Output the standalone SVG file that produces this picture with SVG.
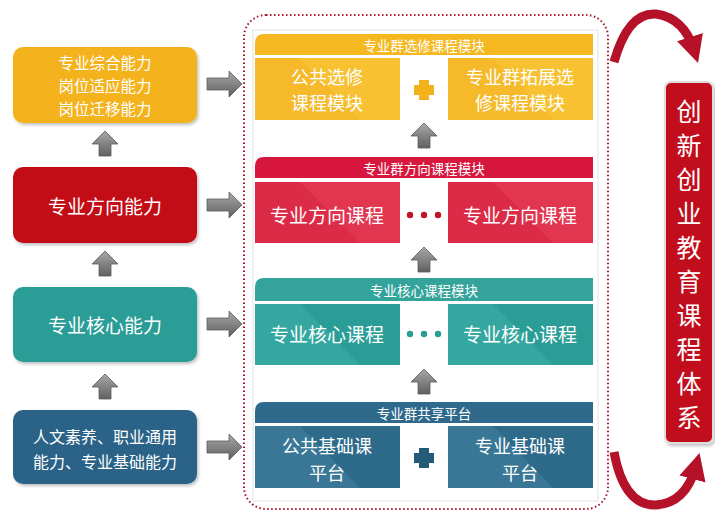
<svg xmlns="http://www.w3.org/2000/svg" width="715" height="513" viewBox="0 0 715 513">
<defs>
<style>
text{font-family:"Noto Sans CJK SC","Noto Sans",sans-serif;fill:#fff;text-anchor:middle;dominant-baseline:central}
.lt{font-size:15.5px}
.hd{font-size:13.5px}
.sb{font-size:18px}
.vt{font-size:25px}
.ga{fill:url(#gg);stroke:#5a5a5a;stroke-width:0.8}
</style>
<linearGradient id="gg" x1="0" y1="0" x2="0" y2="1"><stop offset="0" stop-color="#a8a8a8"/><stop offset="1" stop-color="#606060"/></linearGradient>
<filter id="sh" x="-10%" y="-10%" width="125%" height="130%"><feDropShadow dx="1.5" dy="2" stdDeviation="1.5" flood-color="#000" flood-opacity="0.25"/></filter>
<marker id="ah" viewBox="0 0 10 10" refX="5" refY="5" markerWidth="3" markerHeight="3" orient="auto"><path d="M0,0 L10,5 L0,10 z" fill="#B5122A"/></marker>
</defs>

<g id="left-boxes">
<g id="n-comp"><rect x="13" y="47" width="184" height="76" rx="10" fill="#F4B21C" filter="url(#sh)"/>
<text class="lt" x="105" y="62">专业综合能力</text><text class="lt" x="105" y="85">岗位适应能力</text><text class="lt" x="105" y="108">岗位迁移能力</text></g>
<g id="n-dir"><rect x="13" y="167" width="184" height="76" rx="10" fill="#C30D14" filter="url(#sh)"/>
<text class="lt" x="105" y="205" style="font-size:19px">专业方向能力</text></g>
<g id="n-core"><rect x="13" y="287" width="184" height="75" rx="10" fill="#2A9D96" filter="url(#sh)"/>
<text class="lt" x="105" y="324" style="font-size:19px">专业核心能力</text></g>
<g id="n-base"><rect x="13" y="410" width="184" height="74" rx="10" fill="#2C6487" filter="url(#sh)"/>
<text class="lt" x="105" y="436" style="font-size:16px">人文素养、职业通用</text><text class="lt" x="105" y="461" style="font-size:16px">能力、专业基础能力</text></g>
</g>

<g id="frame">
<rect x="244" y="15" width="364" height="494" rx="22" fill="none" stroke="#A8162A" stroke-width="2" stroke-dasharray="1.5 2.5"/>
<rect x="253" y="30" width="345" height="471" fill="#fff" stroke="#e2e2e2" stroke-width="1"/>
</g>

<g id="m-elective">
<path d="M255,55 V43 Q255,34 264,34 H593 V55 Z" fill="#F5B820"/>
<text class="hd" x="424" y="44.5">专业群选修课程模块</text>
<rect x="255" y="58" width="145" height="62" fill="#F7C131"/>
<polygon points="255,58 300,58 360,120 255,120" fill="#F6B92A"/>
<text class="sb" x="327" y="76">公共选修</text><text class="sb" x="327" y="102">课程模块</text>
<rect x="448" y="58" width="145" height="62" fill="#F7C131"/>
<polygon points="448,58 493,58 553,120 448,120" fill="#F6B92A"/>
<text class="sb" x="520" y="76">专业群拓展选</text><text class="sb" x="520" y="102">修课程模块</text>
<path d="M419,80 h10 v5 h5 v10 h-5 v5 h-10 v-5 h-5 v-10 h5 z" fill="#F3B21C"/>
</g>

<g id="m-direction">
<path d="M255,178 V166 Q255,157 264,157 H593 V178 Z" fill="#D8173F"/>
<text class="hd" x="424" y="167.5">专业群方向课程模块</text>
<rect x="255" y="182" width="145" height="61" fill="#E2354F"/>
<polygon points="255,182 300,182 360,243 255,243" fill="#DB2B47"/>
<text class="sb" x="327" y="214" style="font-size:19px">专业方向课程</text>
<rect x="448" y="182" width="145" height="61" fill="#E2354F"/>
<polygon points="448,182 493,182 553,243 448,243" fill="#DB2B47"/>
<text class="sb" x="520" y="214" style="font-size:19px">专业方向课程</text>
<circle cx="410" cy="215" r="3.2" fill="#C5122A"/><circle cx="424" cy="215" r="3.2" fill="#C5122A"/><circle cx="438" cy="215" r="3.2" fill="#C5122A"/>
</g>

<g id="m-core">
<path d="M255,301 V287 Q255,278 264,278 H593 V301 Z" fill="#33A39C"/>
<text class="hd" x="424" y="289.5">专业核心课程模块</text>
<rect x="255" y="304" width="145" height="61" fill="#2A9D96"/>
<polygon points="255,304 300,304 360,365 255,365" fill="#34A8A0"/>
<text class="sb" x="327" y="333" style="font-size:19px">专业核心课程</text>
<rect x="448" y="304" width="145" height="61" fill="#2A9D96"/>
<polygon points="448,304 493,304 553,365 448,365" fill="#34A8A0"/>
<text class="sb" x="520" y="333" style="font-size:19px">专业核心课程</text>
<circle cx="410" cy="334" r="3.2" fill="#2A9D96"/><circle cx="424" cy="334" r="3.2" fill="#2A9D96"/><circle cx="438" cy="334" r="3.2" fill="#2A9D96"/>
</g>

<g id="m-shared">
<path d="M255,423 V411 Q255,402 264,402 H593 V423 Z" fill="#2F6A8C"/>
<text class="hd" x="424" y="412.5">专业群共享平台</text>
<rect x="255" y="426" width="145" height="62" fill="#2E6A8A"/>
<polygon points="255,426 300,426 360,488 255,488" fill="#3A7797"/>
<text class="sb" x="327" y="445">公共基础课</text><text class="sb" x="327" y="472">平台</text>
<rect x="448" y="426" width="145" height="62" fill="#2E6A8A"/>
<polygon points="448,426 493,426 553,488 448,488" fill="#3A7797"/>
<text class="sb" x="520" y="445">专业基础课</text><text class="sb" x="520" y="472">平台</text>
<path d="M419,448 h10 v5 h5 v10 h-5 v5 h-10 v-5 h-5 v-10 h5 z" fill="#245A78"/>
</g>

<g id="n-innov">
<rect x="665" y="82" width="48" height="361" rx="6" fill="#C10F1E" stroke="#ddd" stroke-width="2" filter="url(#sh)"/>
<text class="vt" x="689" y="110">创</text><text class="vt" x="689" y="144">新</text><text class="vt" x="689" y="178">创</text><text class="vt" x="689" y="212">业</text><text class="vt" x="689" y="246">教</text><text class="vt" x="689" y="280">育</text><text class="vt" x="689" y="314">课</text><text class="vt" x="689" y="348">程</text><text class="vt" x="689" y="382">体</text><text class="vt" x="689" y="416">系</text>
</g>

<g id="connectors">
<path class="ga" d="M99,156 v-12 h-7 l13,-13 l13,13 h-7 v12 z"/>
<path class="ga" d="M99,276 v-12 h-7 l13,-13 l13,13 h-7 v12 z"/>
<path class="ga" d="M99,399 v-12 h-7 l13,-13 l13,13 h-7 v12 z"/>
<path class="ga" d="M418,148 v-12 h-7 l13,-13 l13,13 h-7 v12 z"/>
<path class="ga" d="M418,272 v-12 h-7 l13,-13 l13,13 h-7 v12 z"/>
<path class="ga" d="M418,394 v-12 h-7 l13,-13 l13,13 h-7 v12 z"/>
<path class="ga" d="M207,78 h22 v-7 l13,13 l-13,13 v-7 h-22 z"/>
<path class="ga" d="M207,199 h22 v-7 l13,13 l-13,13 v-7 h-22 z"/>
<path class="ga" d="M207,318 h22 v-7 l13,13 l-13,13 v-7 h-22 z"/>
<path class="ga" d="M207,441 h22 v-7 l13,13 l-13,13 v-7 h-22 z"/>
<path d="M614,62 Q628,12 656,14 Q684,18 694,50" fill="none" stroke="#B5122A" stroke-width="9" marker-end="url(#ah)"/>
<path d="M614,452 Q624,506 656,505 Q686,503 696,466" fill="none" stroke="#B5122A" stroke-width="9" marker-end="url(#ah)"/>
</g>
</svg>
